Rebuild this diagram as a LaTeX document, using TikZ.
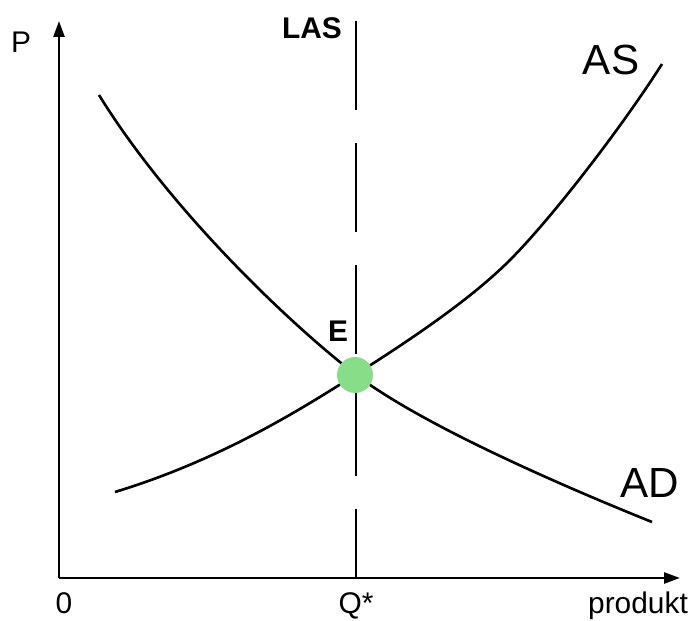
\documentclass[tikz,border=0pt]{standalone}
\usepackage{fontspec}
\setmainfont{Liberation Sans}
\usetikzlibrary{arrows.meta}
\begin{document}
\begin{tikzpicture}[
    x=0.02cm, y=-0.02cm,
    axis/.style={line width=1.4pt, -{Triangle[length=0.32cm,width=0.22cm]}},
    curve/.style={line width=1.5pt},
    las/.style={line width=0.9pt, dash pattern=on 1.78cm off 0.66cm},
    lbl/.style={anchor=base, inner sep=0pt, font=\fontsize{17}{20}\selectfont},
    big/.style={anchor=base, inner sep=0pt, font=\fontsize{24}{28}\selectfont},
    eq/.style={circle, fill=eqgreen, minimum size=0.72cm, inner sep=0pt}
]
\definecolor{eqgreen}{RGB}{136,221,136}
\useasboundingbox (0,0) rectangle (693,621);

\coordinate (O) at (59,578);
\coordinate (Ptip) at (59,21);
\coordinate (Qtip) at (680,578);
\coordinate (Qs) at (356,578);
\coordinate (Ltop) at (356,21);

% osi
\draw[axis] (O)--(Ptip);
\draw[axis] (O)--(Qtip);

% dlhodobá ponuka
\draw[las] (Ltop)--(Qs);

% dopyt
\draw[curve] (99,95) .. controls (170,210) and (290,324) .. (355,374)
    .. controls (420,424) and (560,485) .. (652,522);
% ponuka
\draw[curve] (115,492) .. controls (220,460) and (300,410) .. (355,375)
    .. controls (410,340) and (470,300) .. (510,260)
    .. controls (550,220) and (620,130) .. (662,64);

% rovnováha
\node[eq] (E) at (355,375) {};

% popisy
\node[lbl] (lP) at (21,53) {P};
\node[lbl, font=\fontsize{17}{20}\selectfont\bfseries] (lLAS) at (312,39) {LAS};
\node[big] (lAS) at (611,75) {AS};
\node[lbl, font=\fontsize{17}{20}\selectfont\bfseries] (lE) at (338,342) {E};
\node[big] (lAD) at (650,497) {AD};
\node[lbl] (l0) at (64,613) {0};
\node[lbl] (lQ) at (356,613) {Q*};
\node[lbl] (lprod) at (638,613) {produkt};

\end{tikzpicture}
\end{document}
